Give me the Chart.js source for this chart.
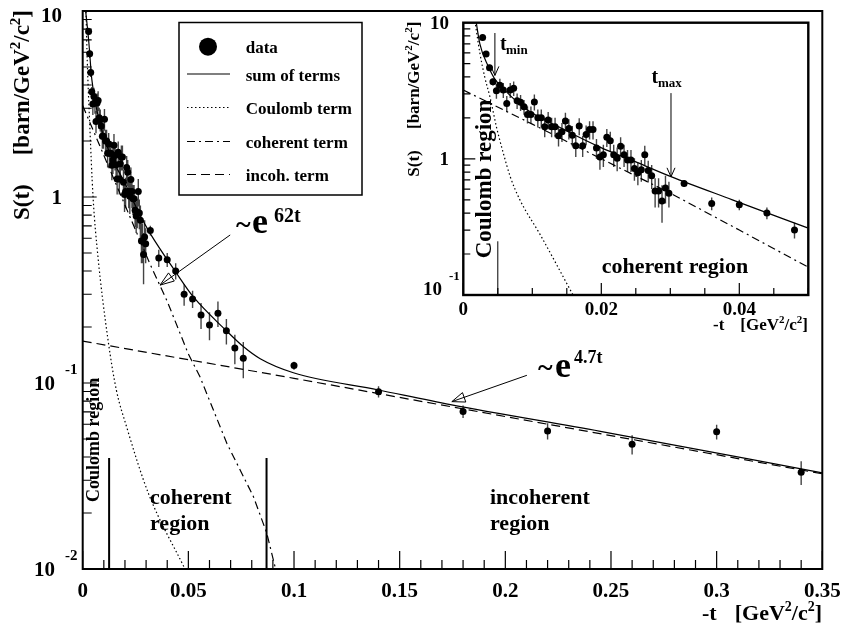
<!DOCTYPE html>
<html>
<head>
<meta charset="utf-8">
<script src="https://cdn.jsdelivr.net/npm/chart.js@4.4.0/dist/chart.umd.min.js"></script>
<style>
  html, body { margin: 0; padding: 0; background: #fff; }
  #wrap { position: relative; width: 846px; height: 631px; }
  #mainChart { position: absolute; left: 0; top: 0; }
  #insetChart { position: absolute; left: 398px; top: 13px; background: #fff; }
</style>
</head>
<body>
<div id="wrap">
  <canvas id="mainChart" width="846" height="631"></canvas>
  <canvas id="insetChart" width="422" height="327"></canvas>
</div>
<script>
// measured points: -t [GeV^2/c^2], S(t) [barn/GeV^2/c^2], error
const tPts = [0.0028, 0.0033, 0.0038, 0.0043, 0.0048, 0.0053, 0.0058, 0.0063, 0.0068, 0.0073,
  0.0078, 0.0083, 0.0088, 0.0093, 0.0098, 0.0103, 0.0108, 0.0113, 0.0118, 0.0123,
  0.0128, 0.0133, 0.0138, 0.0143, 0.0148, 0.0153, 0.0158, 0.0163, 0.0168, 0.0173,
  0.0178, 0.0183, 0.0188, 0.0193, 0.0198, 0.0203, 0.0208, 0.0213, 0.0218, 0.0223,
  0.0228, 0.0233, 0.0238, 0.0243, 0.0248, 0.0253, 0.0258, 0.0263, 0.0268, 0.0273,
  0.0278, 0.0283, 0.0288, 0.0293, 0.0298,
  0.032, 0.036, 0.040, 0.044, 0.048,
  0.052, 0.056, 0.060, 0.064, 0.068, 0.072, 0.076,
  0.10, 0.14, 0.18, 0.22, 0.26, 0.30, 0.34];
const sPts = [7.77, 5.89, 4.67, 3.68, 3.16, 3.47, 3.2, 2.55, 3.2, 3.3,
  2.67, 2.6, 2.41, 2.12, 2.12, 2.62, 2.0, 2.0, 1.72, 1.93,
  1.72, 1.72, 1.48, 1.58, 1.90, 1.67, 1.49, 1.25, 1.74, 1.25,
  1.51, 1.64, 1.64, 1.20, 1.03, 1.07, 1.44, 1.36, 1.07, 1.01,
  1.24, 1.07, 0.98, 0.98, 0.85, 0.79, 0.83, 1.07, 0.82, 0.75,
  0.58, 0.58, 0.49, 0.61, 0.56,
  0.66, 0.47, 0.46, 0.40, 0.30,
  0.283, 0.232, 0.205, 0.237, 0.191, 0.154, 0.136,
  0.124, 0.0898, 0.0702, 0.0552, 0.0468, 0.0547, 0.0331];
const sErr = [0.35, 0.3, 0.25, 0.22, 0.4, 0.4, 0.4, 0.35, 0.4, 0.4,
  0.35, 0.35, 0.3, 0.3, 0.3, 0.35, 0.3, 0.3, 0.28, 0.28,
  0.28, 0.28, 0.25, 0.25, 0.28, 0.28, 0.25, 0.22, 0.25, 0.22,
  0.25, 0.25, 0.25, 0.2, 0.2, 0.2, 0.22, 0.22, 0.2, 0.2,
  0.2, 0.2, 0.18, 0.18, 0.16, 0.15, 0.15, 0.18, 0.15, 0.15,
  0.14, 0.14, 0.15, 0.14, 0.12,
  0.04, 0.05, 0.04, 0.04, 0.04,
  0.03, 0.037, 0.035, 0.037, 0.03, 0.028, 0.03,
  0.006, 0.0063, 0.0054, 0.0055, 0.0055, 0.005, 0.0048];

// fitted terms, main panel
const sumT = [0.0010, 0.0028, 0.0043, 0.0065, 0.0092, 0.014, 0.0198, 0.0271, 0.0322, 0.0437,
  0.0524, 0.0682, 0.076, 0.084, 0.0997, 0.14, 0.174, 0.245, 0.35];
const sumV = [11, 7.0, 4.3, 3.0, 2.25, 1.6, 1.2, 0.80, 0.63, 0.40,
  0.29, 0.19, 0.157, 0.135, 0.1135, 0.0917, 0.0765, 0.055, 0.0329];
const coulT = [0.0013, 0.002, 0.0033, 0.0049, 0.0072, 0.012, 0.0159, 0.0208, 0.0311, 0.0484];
const coulV = [14, 6.2, 2.5, 1.0, 0.48, 0.17, 0.092, 0.058, 0.0255, 0.010];
const cohT = [0, 0.0317, 0.040, 0.0499, 0.0555, 0.0682, 0.0808, 0.0871, 0.091];
const cohV = [3.1, 0.44, 0.275, 0.144, 0.108, 0.0474, 0.0245, 0.0156, 0.0103];
const incT = [0, 0.1, 0.2, 0.35];
const incV = [0.168, 0.106, 0.066, 0.0325];

// fitted terms, zoomed panel
const sumTIn = [0.0017, 0.0024, 0.0036, 0.0045, 0.006, 0.0092, 0.0145, 0.0198, 0.025, 0.0301, 0.039, 0.0499];
const sumVIn = [11.5, 7.0, 4.8, 3.9, 3.2, 2.3, 1.65, 1.22, 0.95, 0.74, 0.50, 0.311];
const coulTIn = [0.0016, 0.0024, 0.0031, 0.0039, 0.0048, 0.0058, 0.0068, 0.0082, 0.0111, 0.0159];
const coulVIn = [11, 6.0, 4.0, 2.8, 1.72, 1.1, 0.74, 0.50, 0.28, 0.1];
const cohTIn = [0, 0.01, 0.02, 0.03, 0.04, 0.05];
const cohVIn = [3.2, 1.8, 1.0, 0.56, 0.30, 0.16];

// region boundaries
const regionEdges = [0.0125, 0.087];
const regionEdgeTop = 0.0395;
const coulEdgeIn = 0.005;
const coulEdgeInTop = 0.248;

// axis ticks
const mainXTicks = [0, 0.05, 0.1, 0.15, 0.2, 0.25, 0.3, 0.35];
const mainXLabels = ['0', '0.05', '0.1', '0.15', '0.2', '0.25', '0.3', '0.35'];
const mainYTicks = [0.01, 0.1, 1, 10];
const mainYLabels = [['10', '-2'], ['10', '-1'], ['1', ''], ['10', '']];
const inXTicks = [0, 0.02, 0.04];
const inXLabels = ['0', '0.02', '0.04'];
const inYTicks = [0.1, 1, 10];
const inYLabels = [['10', '-1'], ['1', ''], ['10', '']];

const FONT = '"Liberation Serif", "Times New Roman", serif';
const DOT = [1.5, 2.5];
const DASHDOT = [8, 4, 2, 4];
const DASH = [9, 5];

function setFont(ctx, size) { ctx.font = 'bold ' + size + 'px ' + FONT; }

// parts: [text, size, baseline shift]
function runs(ctx, x, y, parts, align) {
  let w = 0;
  parts.forEach(p => { setFont(ctx, p[1]); w += ctx.measureText(p[0]).width; });
  let cx = align === 'right' ? x - w : align === 'center' ? x - w / 2 : x;
  ctx.textAlign = 'left';
  ctx.textBaseline = 'alphabetic';
  parts.forEach(p => {
    setFont(ctx, p[1]);
    ctx.fillText(p[0], cx, y + (p[2] || 0));
    cx += ctx.measureText(p[0]).width;
  });
}

function rotRuns(ctx, x, y, parts, align) {
  ctx.save();
  ctx.translate(x, y);
  ctx.rotate(-Math.PI / 2);
  runs(ctx, 0, 0, parts, align);
  ctx.restore();
}

function arrow(ctx, x1, y1, x2, y2, len, half, closed) {
  ctx.beginPath();
  ctx.moveTo(x1, y1);
  ctx.lineTo(x2, y2);
  ctx.stroke();
  const a = Math.atan2(y2 - y1, x2 - x1);
  const bx = x2 - len * Math.cos(a), by = y2 - len * Math.sin(a);
  const px = -Math.sin(a) * half, py = Math.cos(a) * half;
  ctx.beginPath();
  ctx.moveTo(bx + px, by + py);
  ctx.lineTo(x2, y2);
  ctx.lineTo(bx - px, by - py);
  if (closed) ctx.closePath();
  ctx.stroke();
}

function pts(ts, vs) { return ts.map((t, i) => ({ x: t, y: vs[i] })); }

function curve(ts, vs, dash, smooth, width) {
  return {
    data: pts(ts, vs), showLine: true, borderColor: '#000', borderWidth: width || 1.2,
    borderDash: dash, pointRadius: 0, fill: false,
    tension: smooth ? 0.4 : 0, cubicInterpolationMode: smooth ? 'monotone' : 'default', order: 2
  };
}

function errorBars(chart, xmax) {
  const ctx = chart.ctx, a = chart.chartArea;
  const xs = chart.scales.x, ys = chart.scales.y;
  ctx.save();
  ctx.beginPath();
  ctx.rect(a.left, a.top, a.right - a.left, a.bottom - a.top);
  ctx.clip();
  ctx.strokeStyle = '#444';
  ctx.lineWidth = 1.4;
  ctx.beginPath();
  tPts.forEach((t, i) => {
    if (t > xmax) return;
    const px = xs.getPixelForValue(t);
    ctx.moveTo(px, ys.getPixelForValue(sPts[i] + sErr[i]));
    ctx.lineTo(px, ys.getPixelForValue(Math.max(sPts[i] - sErr[i], 1e-4)));
  });
  ctx.stroke();
  ctx.restore();
}

function axes(chart, s) {
  const ctx = chart.ctx, a = chart.chartArea;
  const xs = chart.scales.x, ys = chart.scales.y;
  ctx.save();
  ctx.strokeStyle = '#000';
  ctx.lineWidth = 1.2;
  ctx.beginPath();
  for (let v = 0; v <= s.xMax + 1e-9; v += s.xMinorStep) {
    const px = xs.getPixelForValue(v);
    const major = s.xTicks.some(m => Math.abs(m - v) < 1e-9);
    ctx.moveTo(px, a.bottom);
    ctx.lineTo(px, a.bottom - (major ? s.majLen : s.minLen));
  }
  for (let d = s.yMin; d < s.yMax * 1.001; d *= 10) {
    for (let k = 1; k <= 9; k++) {
      const v = d * k;
      if (v > s.yMax * 1.001) break;
      const py = ys.getPixelForValue(v);
      ctx.moveTo(a.left, py);
      ctx.lineTo(a.left + (k === 1 ? s.yMajLen : s.minLen), py);
    }
  }
  ctx.stroke();
  ctx.lineWidth = s.frameW;
  ctx.strokeRect(a.left, a.top, a.right - a.left, a.bottom - a.top);

  ctx.fillStyle = '#000';
  s.xTicks.forEach((v, i) => {
    runs(ctx, xs.getPixelForValue(v), s.xLabY, [[s.xLabels[i], s.labSize]], 'center');
  });
  s.yTicks.forEach((v, i) => {
    const py = ys.getPixelForValue(v);
    const [m, e] = s.yLabels[i];
    let base = Math.max(py + s.labDy, a.top + s.topMin);
    base = Math.min(base, s.botMax);
    if (e) {
      runs(ctx, s.negRight, base, [[m, s.labSize]], 'right');
      runs(ctx, s.expLeft, base - s.expRise, [[e, s.expSize]], 'left');
    } else {
      runs(ctx, s.posRight, base, [[m, s.labSize]], 'right');
    }
  });
  ctx.restore();
}

const mainDecor = {
  id: 'mainDecor',
  beforeDatasetsDraw(chart) { errorBars(chart, 0.35); },
  afterDatasetsDraw(chart) {
    const ctx = chart.ctx;
    const xs = chart.scales.x, ys = chart.scales.y;
    axes(chart, {
      xMax: 0.35, xMinorStep: 0.01, xTicks: mainXTicks, xLabels: mainXLabels,
      yMin: 0.01, yMax: 10, yTicks: mainYTicks, yLabels: mainYLabels,
      majLen: 18, minLen: 9, yMajLen: 14, frameW: 2,
      labSize: 21, xLabY: 597, labDy: 7, topMin: 11, botMax: 1000,
      negRight: 55, posRight: 62, expLeft: 65, expRise: 16, expSize: 15
    });

    ctx.save();
    ctx.fillStyle = '#000';
    ctx.strokeStyle = '#000';

    // axis titles
    rotRuns(ctx, 29, 220, [['S(t)', 23]], 'left');
    rotRuns(ctx, 29, 10, [['[barn/GeV', 23], ['2', 15, -9], ['/c', 23], ['2', 15, -9], [']', 23]], 'right');
    runs(ctx, 702, 620, [['-t', 22]], 'left');
    runs(ctx, 822, 620, [['[GeV', 22], ['2', 14, -9], ['/c', 22], ['2', 14, -9], [']', 22]], 'right');

    // legend
    ctx.lineWidth = 1.5;
    ctx.strokeRect(179, 22.5, 183, 172.5);
    const rows = [46.7, 74, 107.5, 141.5, 174.5];
    const names = ['data', 'sum of terms', 'Coulomb term', 'coherent term', 'incoh. term'];
    const dashes = [null, [], DOT, DASHDOT, DASH];
    ctx.beginPath();
    ctx.arc(208, rows[0], 9, 0, Math.PI * 2);
    ctx.fill();
    ctx.lineWidth = 1.2;
    for (let i = 1; i < rows.length; i++) {
      ctx.setLineDash(dashes[i]);
      ctx.beginPath();
      ctx.moveTo(187, rows[i]);
      ctx.lineTo(230, rows[i]);
      ctx.stroke();
    }
    ctx.setLineDash([]);
    names.forEach((n, i) => runs(ctx, 245.7, rows[i] + 6.5, [[n, 17]], 'left'));

    // slope annotations
    ctx.lineWidth = 1;
    arrow(ctx, xs.getPixelForValue(0.0698), ys.getPixelForValue(0.625),
      xs.getPixelForValue(0.0366), ys.getPixelForValue(0.336), 14, 5, true);
    arrow(ctx, xs.getPixelForValue(0.2102), ys.getPixelForValue(0.110),
      xs.getPixelForValue(0.1747), ys.getPixelForValue(0.0794), 13, 5, true);
    runs(ctx, 236, 233, [['~', 28]], 'left');
    runs(ctx, 252, 233, [['e', 36]], 'left');
    runs(ctx, 274, 221.5, [['62t', 20]], 'left');
    runs(ctx, 538, 376, [['~', 28]], 'left');
    runs(ctx, 555, 376.5, [['e', 36]], 'left');
    runs(ctx, 574, 363, [['4.7t', 18]], 'left');

    // region labels
    rotRuns(ctx, 99, 502, [['Coulomb region', 18]], 'left');
    runs(ctx, 150, 504, [['coherent', 22]], 'left');
    runs(ctx, 150, 530, [['region', 22]], 'left');
    runs(ctx, 490, 504, [['incoherent', 22]], 'left');
    runs(ctx, 490, 530, [['region', 22]], 'left');
    ctx.restore();
  }
};

const insetDecor = {
  id: 'insetDecor',
  beforeDatasetsDraw(chart) { errorBars(chart, 0.0502); },
  afterDatasetsDraw(chart) {
    const ctx = chart.ctx;
    const xs = chart.scales.x, ys = chart.scales.y;
    axes(chart, {
      xMax: 0.05, xMinorStep: 0.005, xTicks: inXTicks, xLabels: inXLabels,
      yMin: 0.1, yMax: 10, yTicks: inYTicks, yLabels: inYLabels,
      majLen: 12, minLen: 7, yMajLen: 12, frameW: 2.4,
      labSize: 19, xLabY: 301.5, labDy: 6, topMin: 6, botMax: 282,
      negRight: 44, posRight: 51, expLeft: 51, expRise: 15.5, expSize: 13
    });

    ctx.save();
    ctx.fillStyle = '#000';
    ctx.strokeStyle = '#000';
    rotRuns(ctx, 21, 163.7, [['S(t)', 17]], 'left');
    rotRuns(ctx, 21, 8.7, [['[barn/GeV', 17], ['2', 11, -7], ['/c', 17], ['2', 11, -7], [']', 17]], 'right');
    runs(ctx, 315, 317, [['-t', 17]], 'left');
    runs(ctx, 410, 317, [['[GeV', 17], ['2', 11, -7], ['/c', 17], ['2', 11, -7], [']', 17]], 'right');

    // t_min / t_max markers
    ctx.lineWidth = 1;
    arrow(ctx, xs.getPixelForValue(0.00458), ys.getPixelForValue(8.4),
      xs.getPixelForValue(0.00458), ys.getPixelForValue(4.1), 9, 4, false);
    arrow(ctx, xs.getPixelForValue(0.0301), ys.getPixelForValue(3.04),
      xs.getPixelForValue(0.0301), ys.getPixelForValue(0.738), 9, 4, false);
    runs(ctx, 102, 37, [['t', 20]], 'left');
    runs(ctx, 108, 41, [['min', 13]], 'left');
    runs(ctx, 253.5, 70, [['t', 20]], 'left');
    runs(ctx, 260, 74, [['max', 13]], 'left');

    rotRuns(ctx, 93, 245.3, [['Coulomb region', 23]], 'left');
    runs(ctx, 203.7, 260, [['coherent region', 22]], 'left');
    ctx.restore();
  }
};

function baseOptions(pad, xmax, ymin) {
  return {
    responsive: false, animation: false, devicePixelRatio: 1, events: [],
    layout: { padding: pad },
    plugins: { legend: { display: false }, tooltip: { enabled: false } },
    scales: {
      x: { type: 'linear', min: 0, max: xmax, display: false },
      y: { type: 'logarithmic', min: ymin, max: 10, display: false }
    }
  };
}

const dataSet = inRange => ({
  data: pts(tPts, sPts).filter(p => p.x <= inRange),
  pointRadius: 3.5, pointBackgroundColor: '#000', pointBorderWidth: 0,
  showLine: false, order: 0
});

new Chart(document.getElementById('mainChart'), {
  type: 'scatter',
  data: {
    datasets: [
      dataSet(0.35),
      curve(sumT, sumV, [], true),
      curve(coulT, coulV, DOT, true),
      curve(cohT, cohV, DASHDOT, false),
      curve(incT, incV, DASH, false),
      curve([regionEdges[0], regionEdges[0]], [0.01, regionEdgeTop], [], false, 2),
      curve([regionEdges[1], regionEdges[1]], [0.01, regionEdgeTop], [], false, 2)
    ]
  },
  options: baseOptions({ left: 82.7, right: 23.7, top: 11, bottom: 62 }, 0.35, 0.01),
  plugins: [mainDecor]
});

new Chart(document.getElementById('insetChart'), {
  type: 'scatter',
  data: {
    datasets: [
      dataSet(0.0502),
      curve(sumTIn, sumVIn, [], true),
      curve(coulTIn, coulVIn, DOT, true),
      curve(cohTIn, cohVIn, DASHDOT, false),
      curve([coulEdgeIn, coulEdgeIn], [0.1, coulEdgeInTop], [], false, 1)
    ]
  },
  options: baseOptions({ left: 65.3, right: 11.7, top: 9.7, bottom: 45 }, 0.05, 0.1),
  plugins: [insetDecor]
});
</script>
</body>
</html>
